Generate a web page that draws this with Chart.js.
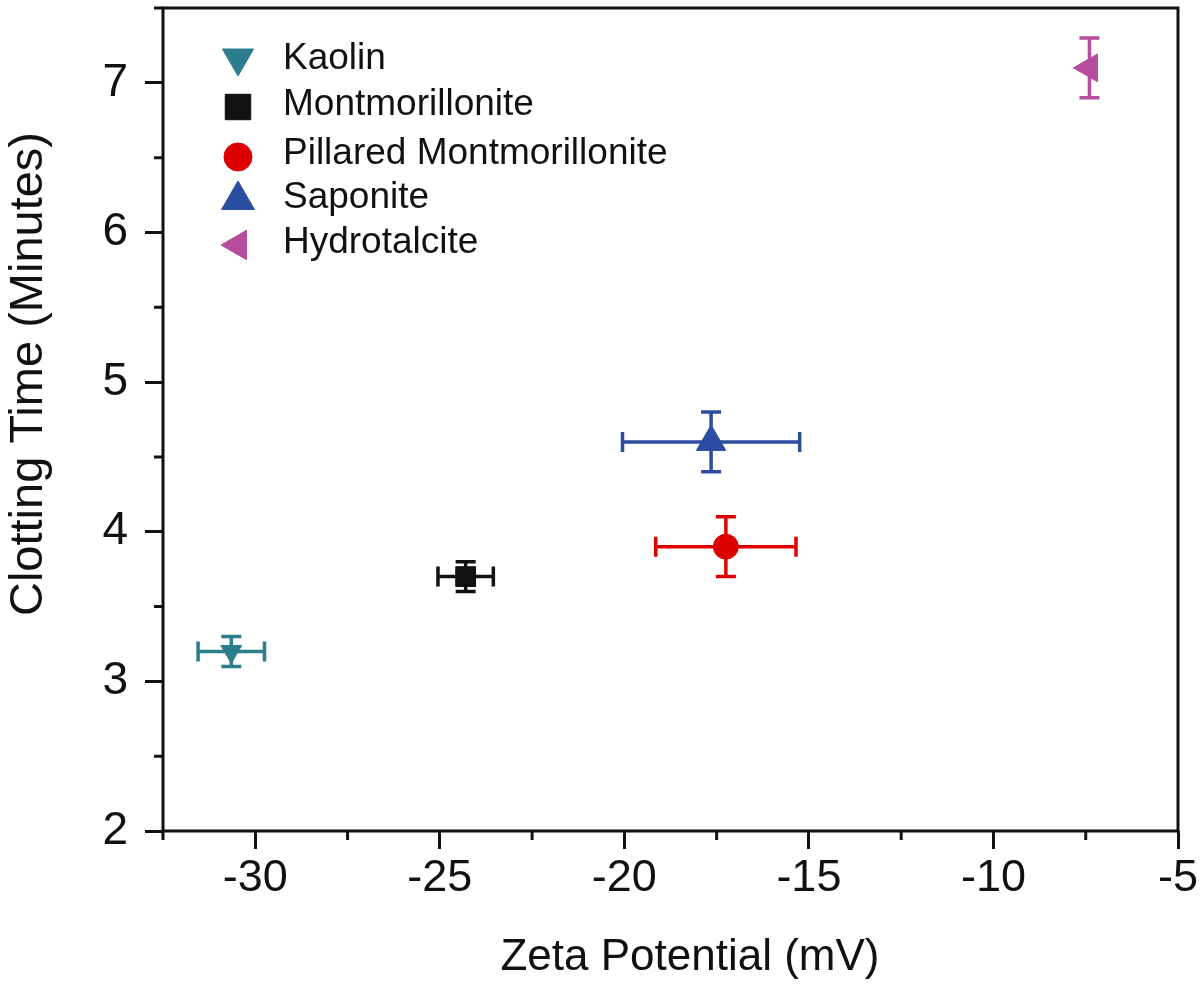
<!DOCTYPE html>
<html>
<head>
<meta charset="utf-8">
<script src="https://cdn.jsdelivr.net/npm/chart.js@4.4.1/dist/chart.umd.min.js"></script>
<style>
  html, body { margin: 0; padding: 0; background: #fff; }
  #wrap { width: 1200px; height: 986px; }
</style>
</head>
<body>
<div id="wrap"><canvas id="scatter-chart"></canvas></div>
<script>
const names = ['Kaolin', 'Montmorillonite', 'Pillared Montmorillonite', 'Saponite', 'Hydrotalcite'];
const zeta = [-30.65, -24.3, -17.25, -17.65, -7.4];
const zetaErr = [0.9, 0.75, 1.9, 2.4, 0];
const clotTime = [3.2, 3.7, 3.9, 4.6, 7.1];
const clotErr = [0.1, 0.1, 0.2, 0.2, 0.2];
const xTicks = [-30, -25, -20, -15, -10, -5];
const yTicks = [2, 3, 4, 5, 6, 7];
const colors = ['#2a7d8b', '#111111', '#dd0000', '#2c4ea0', '#b54d9c'];
const shapes = ['triangle', 'rect', 'circle', 'triangle', 'triangle'];
const rotations = [180, 0, 0, 0, -90];
const radii = [12, 14, 12.5, 17, 16];
const legendRadii = [18, 18, 14, 19, 17];

const FONT = '"Liberation Sans", Arial, sans-serif';

const datasets = names.map((n, i) => ({
  label: n,
  data: [{ x: zeta[i], y: clotTime[i], xErr: zetaErr[i], yErr: clotErr[i] }],
  backgroundColor: colors[i],
  borderColor: colors[i],
  pointStyle: shapes[i],
  rotation: rotations[i],
  pointRadius: radii[i],
  pointHoverRadius: radii[i],
  borderWidth: 1
}));

// error bars drawn under the markers
const errorBars = {
  id: 'errorBars',
  beforeDatasetsDraw(chart) {
    const ctx = chart.ctx, xs = chart.scales.x, ys = chart.scales.y;
    ctx.save();
    ctx.lineWidth = 3.5;
    chart.data.datasets.forEach(ds => {
      ctx.strokeStyle = ds.borderColor;
      ds.data.forEach(p => {
        const cx = xs.getPixelForValue(p.x), cy = ys.getPixelForValue(p.y);
        const cap = 10;
        ctx.beginPath();
        if (p.xErr > 0) {
          const x1 = xs.getPixelForValue(p.x - p.xErr), x2 = xs.getPixelForValue(p.x + p.xErr);
          ctx.moveTo(x1, cy); ctx.lineTo(x2, cy);
          ctx.moveTo(x1, cy - cap); ctx.lineTo(x1, cy + cap);
          ctx.moveTo(x2, cy - cap); ctx.lineTo(x2, cy + cap);
        }
        const y1 = ys.getPixelForValue(p.y - p.yErr), y2 = ys.getPixelForValue(p.y + p.yErr);
        ctx.moveTo(cx, y1); ctx.lineTo(cx, y2);
        ctx.moveTo(cx - cap, y1); ctx.lineTo(cx + cap, y1);
        ctx.moveTo(cx - cap, y2); ctx.lineTo(cx + cap, y2);
        ctx.stroke();
      });
    });
    ctx.restore();
  }
};

// frame, minor ticks, axis titles and the legend inside the plot
const frame = {
  id: 'frame',
  afterDraw(chart) {
    const ctx = chart.ctx, a = chart.chartArea, xs = chart.scales.x, ys = chart.scales.y;
    ctx.save();
    ctx.strokeStyle = '#111';
    ctx.lineWidth = 3;
    ctx.strokeRect(a.left, a.top, a.right - a.left, a.bottom - a.top);
    ctx.beginPath();
    for (let v = -32.5; v <= -5; v += 5) {
      const px = xs.getPixelForValue(v);
      ctx.moveTo(px, a.bottom); ctx.lineTo(px, a.bottom + 9);
    }
    for (let v = 2.5; v <= 7.5; v += 1) {
      const py = ys.getPixelForValue(v);
      ctx.moveTo(a.left, py); ctx.lineTo(a.left - 9, py);
    }
    ctx.stroke();

    ctx.fillStyle = '#111';
    ctx.textAlign = 'center';
    ctx.textBaseline = 'middle';
    ctx.font = '44px ' + FONT;
    ctx.fillText('Zeta Potential (mV)', 690, 958);
    ctx.save();
    ctx.translate(29, 374);
    ctx.rotate(-Math.PI / 2);
    ctx.font = '47px ' + FONT;
    ctx.fillText('Clotting Time (Minutes)', 0, 0);
    ctx.restore();

    const rowY = [58, 104, 153, 197, 242];
    const markY = [58, 107, 157, 200, 245];
    ctx.font = '37px ' + FONT;
    ctx.textAlign = 'left';
    chart.data.datasets.forEach((ds, i) => {
      ctx.fillStyle = ds.backgroundColor;
      ctx.strokeStyle = ds.borderColor;
      ctx.lineWidth = 1;
      Chart.helpers.drawPoint(ctx, {
        pointStyle: ds.pointStyle, rotation: ds.rotation, radius: legendRadii[i], borderWidth: 1
      }, 238, markY[i]);
      ctx.fillStyle = '#111';
      ctx.fillText(ds.label, 283, rowY[i] + 1);
    });
    ctx.restore();
  }
};

new Chart(document.getElementById('scatter-chart'), {
  type: 'scatter',
  data: { datasets },
  options: {
    responsive: true,
    maintainAspectRatio: false,
    animation: false,
    layout: { autoPadding: false, padding: { top: 8, right: 22, left: 0, bottom: 0 } },
    scales: {
      x: {
        min: -32.5, max: -5,
        afterFit: s => { s.height = 155; s.paddingLeft = 0; s.paddingRight = 0; },
        afterBuildTicks: s => { s.ticks = xTicks.map(v => ({ value: v })); },
        ticks: {
          color: '#111',
          font: { family: FONT, size: 45 },
          padding: 3,
          maxRotation: 0,
          callback: v => String(v)
        },
        grid: { drawOnChartArea: false, tickLength: 18, tickWidth: 3, tickColor: '#111' },
        border: { display: false }
      },
      y: {
        min: 2, max: 7.5,
        afterFit: s => { s.width = 163; s.paddingTop = 0; s.paddingBottom = 0; },
        afterBuildTicks: s => { s.ticks = yTicks.map(v => ({ value: v })); },
        ticks: {
          color: '#111',
          font: { family: FONT, size: 46 },
          padding: 17,
          callback: v => String(v)
        },
        grid: { drawOnChartArea: false, tickLength: 18, tickWidth: 3, tickColor: '#111' },
        border: { display: false }
      }
    },
    plugins: {
      legend: { display: false },
      tooltip: { enabled: false }
    }
  },
  plugins: [errorBars, frame]
});
</script>
</body>
</html>
